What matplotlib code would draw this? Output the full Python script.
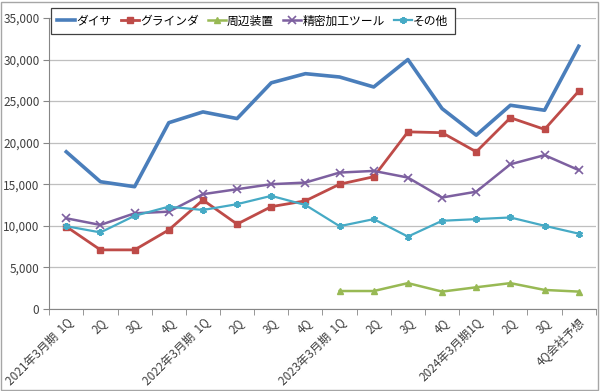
import matplotlib
matplotlib.use("Agg")
import matplotlib.pyplot as plt
import numpy as np
from matplotlib.patches import Rectangle

plt.rcParams['font.family'] = ['Noto Sans CJK JP', 'DejaVu Sans']

categories = ["2021年3月期  1Q", "2Q", "3Q", "4Q",
              "2022年3月期  1Q", "2Q", "3Q", "4Q",
              "2023年3月期  1Q", "2Q", "3Q", "4Q",
              "2024年3月期1Q", "2Q", "3Q", "4Q会社予想"]

dicer = [18900, 15300, 14700, 22400, 23700, 22900, 27200, 28300,
         27900, 26700, 30000, 24100, 20900, 24500, 23900, 31600]
grinder = [9900, 7100, 7100, 9500, 13100, 10200, 12300, 13000,
           15000, 15900, 21300, 21200, 18900, 23000, 21600, 26200]
peripheral = [np.nan] * 8 + [2150, 2150, 3100, 2080, 2600, 3100, 2280, 2080]
precision = [10900, 10100, 11500, 11700, 13800, 14400, 15000, 15200,
             16400, 16600, 15800, 13400, 14100, 17400, 18500, 16700]
other = [9950, 9200, 11200, 12300, 11900, 12600, 13600, 12500,
         9950, 10800, 8700, 10600, 10800, 11000, 10000, 9050]

series_names = ["ダイサ", "グラインダ", "周辺装置", "精密加工ツール", "その他"]
yticks = [0, 5000, 10000, 15000, 20000, 25000, 30000, 35000]

fig = plt.figure(figsize=(6.0, 3.91), dpi=100)
ax = fig.add_axes([0.082, 0.21, 0.911, 0.744])

x = np.arange(len(categories))
ax.plot(x, dicer, color="#4A7EBB", lw=2.6, label=series_names[0])
ax.plot(x, grinder, color="#BE4B48", lw=2.0, marker="s", ms=5, label=series_names[1])
ax.plot(x, peripheral, color="#98B954", lw=1.8, marker="^", ms=5, label=series_names[2])
ax.plot(x, precision, color="#7D60A0", lw=1.8, marker="x", ms=6, mew=1.2, label=series_names[3])
ax.plot(x, other, color="#46AAC5", lw=1.6, marker=(6, 2, 0), ms=5, mew=1.5, label=series_names[4])

ax.set_xlim(-0.5, len(categories) - 0.5)
ax.set_ylim(0, 35000)
ax.set_yticks(yticks)
ax.set_yticklabels([f"{v:,}" for v in yticks], fontsize=8.5, color="#404040")
ax.yaxis.grid(True, color="#BFBFBF", lw=0.9)
ax.set_axisbelow(True)

ax.set_xticks(x)
ax.set_xticklabels(categories, rotation=45, ha="right", rotation_mode="anchor",
                   fontsize=8.5, color="#404040")
ax.tick_params(axis="x", which="major", length=0, pad=5)
ax.set_xticks(np.arange(-0.5, len(categories)), minor=True)
ax.tick_params(axis="x", which="minor", length=4, color="#868686")
ax.tick_params(axis="y", length=4, color="#868686", pad=3)

for s in ["top", "right"]:
    ax.spines[s].set_visible(False)
for s in ["left", "bottom"]:
    ax.spines[s].set_color("#868686")

leg = fig.legend(*ax.get_legend_handles_labels(), loc="upper left",
                 bbox_to_anchor=(51 / 600, 1 - 8 / 391), bbox_transform=fig.transFigure,
                 ncol=5, fontsize=8.5,
                 frameon=True, fancybox=False, edgecolor="#404040",
                 handlelength=1.5, handletextpad=0.1, columnspacing=0.8,
                 borderpad=0.55, borderaxespad=0.0)
leg.get_frame().set_linewidth(0.9)
leg.get_frame().set_facecolor("white")
leg.get_frame().set_alpha(1.0)

fig.patches.append(Rectangle((0.002, 0.003), 0.995, 0.993, transform=fig.transFigure,
                             fill=False, edgecolor="#A6A6A6", lw=1.0))

fig.savefig("out.png", dpi=100)
